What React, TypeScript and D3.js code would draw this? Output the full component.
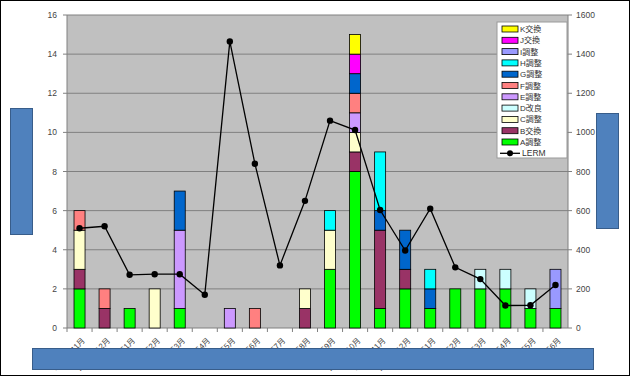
import React from "react";
import * as d3 from "d3";

const categories = [
  "2008年11月", "2008年12月", "2009年1月", "2009年2月", "2009年3月", "2009年4月", "2009年5月",
  "2009年6月", "2009年7月", "2009年8月", "2009年9月", "2009年10月", "2009年11月", "2009年12月",
  "2010年1月", "2010年2月", "2010年3月", "2010年4月", "2010年5月", "2010年6月",
];

const seriesNames = ["A調整", "B交換", "C調整", "D改良", "E調整", "F調整", "G調整", "H調整", "I調整", "J交換", "K交換"];
const seriesColors = ["#00FF00", "#993366", "#FFFFCC", "#CCFFFF", "#CC99FF", "#FF8080", "#0066CC", "#00FFFF", "#9999FF", "#FF00FF", "#FFFF00"];

const A = [2, 0, 1, 0, 1, 0, 0, 0, 0, 0, 3, 8, 1, 2, 1, 2, 2, 2, 1, 1];
const B = [1, 1, 0, 0, 0, 0, 0, 0, 0, 1, 0, 1, 4, 1, 0, 0, 0, 0, 0, 0];
const C = [2, 0, 0, 2, 0, 0, 0, 0, 0, 1, 2, 1, 0, 0, 0, 0, 0, 0, 0, 0];
const D = [0, 0, 0, 0, 0, 0, 0, 0, 0, 0, 0, 0, 0, 0, 0, 0, 1, 1, 1, 0];
const E = [0, 0, 0, 0, 4, 0, 1, 0, 0, 0, 0, 1, 0, 0, 0, 0, 0, 0, 0, 0];
const F = [1, 1, 0, 0, 0, 0, 0, 1, 0, 0, 0, 1, 0, 0, 0, 0, 0, 0, 0, 0];
const G = [0, 0, 0, 0, 2, 0, 0, 0, 0, 0, 0, 1, 1, 2, 1, 0, 0, 0, 0, 0];
const H = [0, 0, 0, 0, 0, 0, 0, 0, 0, 0, 1, 0, 3, 0, 1, 0, 0, 0, 0, 0];
const I = [0, 0, 0, 0, 0, 0, 0, 0, 0, 0, 0, 0, 0, 0, 0, 0, 0, 0, 0, 2];
const J = [0, 0, 0, 0, 0, 0, 0, 0, 0, 0, 0, 1, 0, 0, 0, 0, 0, 0, 0, 0];
const K = [0, 0, 0, 0, 0, 0, 0, 0, 0, 0, 0, 1, 0, 0, 0, 0, 0, 0, 0, 0];
const seriesValues = [A, B, C, D, E, F, G, H, I, J, K];

const LERM = [510, 520, 272, 275, 275, 170, 1465, 840, 320, 650, 1060, 1012, 603, 396, 610, 310, 250, 115, 116, 220];

const leftTicks = [0, 2, 4, 6, 8, 10, 12, 14, 16];
const rightTicks = [0, 200, 400, 600, 800, 1000, 1200, 1400, 1600];

const W = 630, Hh = 377;
const plot = { l: 67, r: 568, t: 15, b: 328 };

export default function App() {
  const x = d3.scaleBand<string>().domain(categories).range([plot.l, plot.r]).paddingInner(0.56).paddingOuter(0.28);
  const xc = d3.scaleBand<string>().domain(categories).range([plot.l, plot.r]);
  const y = d3.scaleLinear().domain([0, 16]).range([plot.b, plot.t]);
  const y2 = d3.scaleLinear().domain([0, 1600]).range([plot.b, plot.t]);

  const table = categories.map((c, i) => {
    const row: any = { cat: c };
    seriesNames.forEach((s, k) => (row[s] = seriesValues[k][i]));
    return row;
  });
  const stacked = d3.stack().keys(seriesNames)(table);

  const line = d3.line<number>().x((_, i) => xc(categories[i])! + xc.bandwidth() / 2).y((v) => y2(v));

  const font = "'Liberation Sans', Arial, sans-serif";
  const jfont = "'Liberation Sans', 'Noto Sans CJK JP', sans-serif";

  const legendItems = [...seriesNames.map((n, k) => ({ n, c: seriesColors[k] })).reverse()];
  const lg = { x: 497, y: 22, w: 70, h: 136 };

  return (
    <svg width={W} height={Hh} style={{ position: "absolute", left: 0, top: 0, background: "#fff" }}>
      <rect x={0.5} y={0.5} width={W - 1} height={Hh - 2} fill="#fff" stroke="#000" strokeWidth={1} />
      <rect x={plot.l} y={plot.t} width={plot.r - plot.l} height={plot.b - plot.t} fill="#C0C0C0" />
      {leftTicks.map((t) => (
        <g key={t}>
          {t > 0 && <line x1={plot.l} x2={plot.r} y1={y(t)} y2={y(t)} stroke="#808080" strokeWidth={1} />}
          <line x1={plot.l - 4} x2={plot.l} y1={y(t)} y2={y(t)} stroke="#808080" />
          <text x={57} y={y(t) + 3} fontSize={8.5} fill="#444" textAnchor="end" fontFamily={font}>{t}</text>
        </g>
      ))}
      {rightTicks.map((t) => (
        <g key={t}>
          <line x1={plot.r} x2={plot.r + 4} y1={y2(t)} y2={y2(t)} stroke="#808080" />
          <text x={576} y={y2(t) + 3} fontSize={8.5} fill="#444" textAnchor="start" fontFamily={font}>{t}</text>
        </g>
      ))}
      <line x1={plot.l} x2={plot.l} y1={plot.t} y2={plot.b} stroke="#808080" />
      <line x1={plot.r} x2={plot.r} y1={plot.t} y2={plot.b} stroke="#808080" />
      <line x1={plot.l} x2={plot.r} y1={plot.b} y2={plot.b} stroke="#808080" />
      {categories.map((c, i) => (
        <line key={c} x1={xc(c)!} x2={xc(c)!} y1={plot.b} y2={plot.b + 4} stroke="#808080" />
      ))}
      {stacked.map((s, k) => (
        <g key={s.key}>
          {s.map((d, i) =>
            d[1] - d[0] > 0 ? (
              <rect key={i} x={x(categories[i])!} width={x.bandwidth()} y={y(d[1])} height={y(d[0]) - y(d[1])}
                fill={seriesColors[k]} stroke="#000" strokeWidth={0.8} />
            ) : null
          )}
        </g>
      ))}
      <path d={line(LERM)!} fill="none" stroke="#000" strokeWidth={1.3} />
      {LERM.map((v, i) => (
        <circle key={i} cx={xc(categories[i])! + xc.bandwidth() / 2} cy={y2(v)} r={3.2} fill="#000" />
      ))}
      {categories.map((c) => {
        const cx = xc(c)! + xc.bandwidth() / 2 + 6;
        return (
          <text key={c} x={cx} y={341} fontSize={8} fill="#444" fontFamily={jfont} textAnchor="end"
            transform={`rotate(-45, ${cx}, 341)`}>{c}</text>
        );
      })}
      <g>
        <rect x={lg.x} y={lg.y} width={lg.w} height={lg.h} fill="#fff" stroke="#999" />
        {legendItems.map((it, j) => {
          const yy = lg.y + 7 + j * 11.3;
          return (
            <g key={it.n}>
              <rect x={lg.x + 5} y={yy - 3} width={16} height={6} fill={it.c} stroke="#000" strokeWidth={0.8} />
              <text x={lg.x + 23} y={yy + 3} fontSize={8} fill="#333" fontFamily={jfont}>{it.n}</text>
            </g>
          );
        })}
        {(() => {
          const yy = lg.y + 7 + 11 * 11.3;
          return (
            <g>
              <line x1={lg.x + 3} x2={lg.x + 23} y1={yy} y2={yy} stroke="#000" strokeWidth={1.3} />
              <circle cx={lg.x + 13} cy={yy} r={3} fill="#000" />
              <text x={lg.x + 25} y={yy + 3} fontSize={8.5} fill="#333" fontFamily={font}>LERM</text>
            </g>
          );
        })()}
      </g>
      <rect x={10.5} y={108.5} width={22} height={126} fill="#4F81BD" stroke="#385D8A" strokeWidth={1} />
      <rect x={596.5} y={113.5} width={22} height={115} fill="#4F81BD" stroke="#385D8A" strokeWidth={1} />
      <rect x={32.5} y={348.5} width={561} height={21} fill="#4F81BD" stroke="#385D8A" strokeWidth={1} />
    </svg>
  );
}
